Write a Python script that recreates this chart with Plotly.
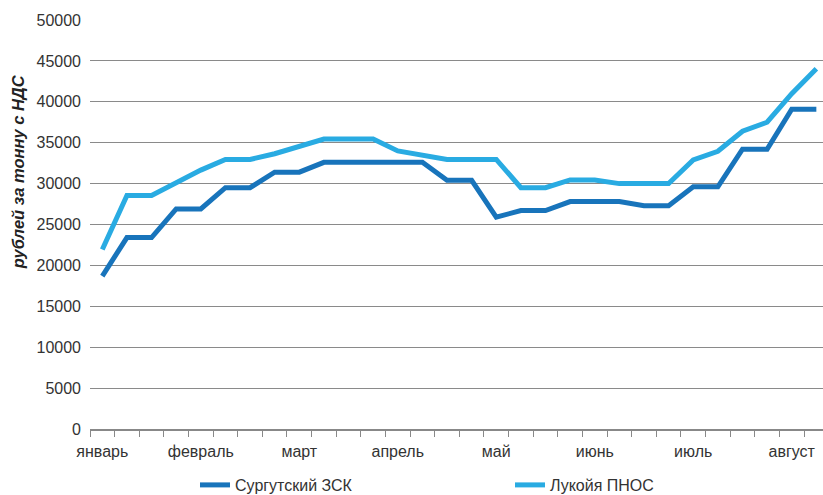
import plotly.graph_objects as go

# Weekly price points, January to August (roubles per tonne incl. VAT)
weeks = list(range(30))
surgut = [18700, 23400, 23400, 26900, 26900, 29500, 29500, 31400, 31400, 32600,
          32600, 32600, 32600, 32600, 30400, 30400, 25900, 26700, 26700, 27800,
          27800, 27800, 27300, 27300, 29600, 29600, 34200, 34200, 39100, 39100]
lukoil = [21950, 28550, 28550, 30100, 31650, 32950, 32950, 33650, 34600, 35450,
          35450, 35450, 34000, 33550, 32950, 32950, 32950, 29500, 29500, 30450,
          30450, 30000, 30000, 30000, 32900, 33950, 36400, 37500, 41000, 44050]

month_pos = [0, 4, 8, 12, 16, 20, 24, 28]
month_labels = ["январь", "февраль", "март", "апрель", "май", "июнь", "июль", "август"]

series_names = ["Сургутский ЗСК", "Лукойя ПНОС"]
y_ticks = list(range(0, 50001, 5000))
y_tick_labels = [str(v) for v in y_ticks]

FONT = "Liberation Sans, Arial, sans-serif"
x_range = [-0.5, 29.27]

fig = go.Figure()
fig.add_trace(go.Scatter(x=weeks, y=surgut, mode="lines", name=series_names[0],
                         line=dict(color="#1874BB", width=5)))
fig.add_trace(go.Scatter(x=weeks, y=lukoil, mode="lines", name=series_names[1],
                         line=dict(color="#29ABE2", width=5)))
# invisible trace to carry the month label axis
fig.add_trace(go.Scatter(x=[x_range[0]], y=[0], xaxis="x2", mode="markers",
                         marker=dict(opacity=0), showlegend=False, hoverinfo="skip"))

fig.update_layout(
    width=823, height=495,
    margin=dict(l=90, r=0, t=20, b=66, autoexpand=False),
    plot_bgcolor="white", paper_bgcolor="white",
    font=dict(family=FONT, size=16, color="#333333"),
    showlegend=True,
    legend=dict(orientation="h", x=(195 - 90) / 733, xanchor="left",
                y=-(485 - 429) / 409, yanchor="middle",
                entrywidth=270, entrywidthmode="pixels",
                font=dict(size=16, color="#333333")),
    xaxis=dict(range=x_range, tickmode="array",
               tickvals=[i - 0.5 for i in range(31)], ticktext=[""] * 31,
               ticks="outside", ticklen=6, tickcolor="#888888", tickwidth=1,
               showline=True, linecolor="#888888", linewidth=1.5,
               showgrid=False, zeroline=False, automargin=False),
    xaxis2=dict(overlaying="x", side="bottom", range=x_range, tickmode="array",
                tickvals=month_pos, ticktext=month_labels, ticks="",
                showgrid=False, showline=False, zeroline=False, automargin=False,
                tickfont=dict(size=16, color="#333333"), ticklabelstandoff=11),
    yaxis=dict(range=[0, 50000], tickmode="array", tickvals=y_ticks,
               ticktext=y_tick_labels,
               showgrid=True, gridcolor="#8a8a8a", gridwidth=1.3,
               zeroline=False, showline=False, ticks="", automargin=False,
               tickfont=dict(size=16, color="#333333"), ticklabelstandoff=8),
)

fig.add_annotation(text="рублей за тонну с НДС", xref="paper", yref="paper",
                   x=-0.098, y=(429 - 172) / 409, xanchor="center", yanchor="middle",
                   textangle=-90, showarrow=False,
                   font=dict(family=FONT, size=16.5, color="#222222",
                             style="italic", weight="bold"))

fig.write_html("out.html")
